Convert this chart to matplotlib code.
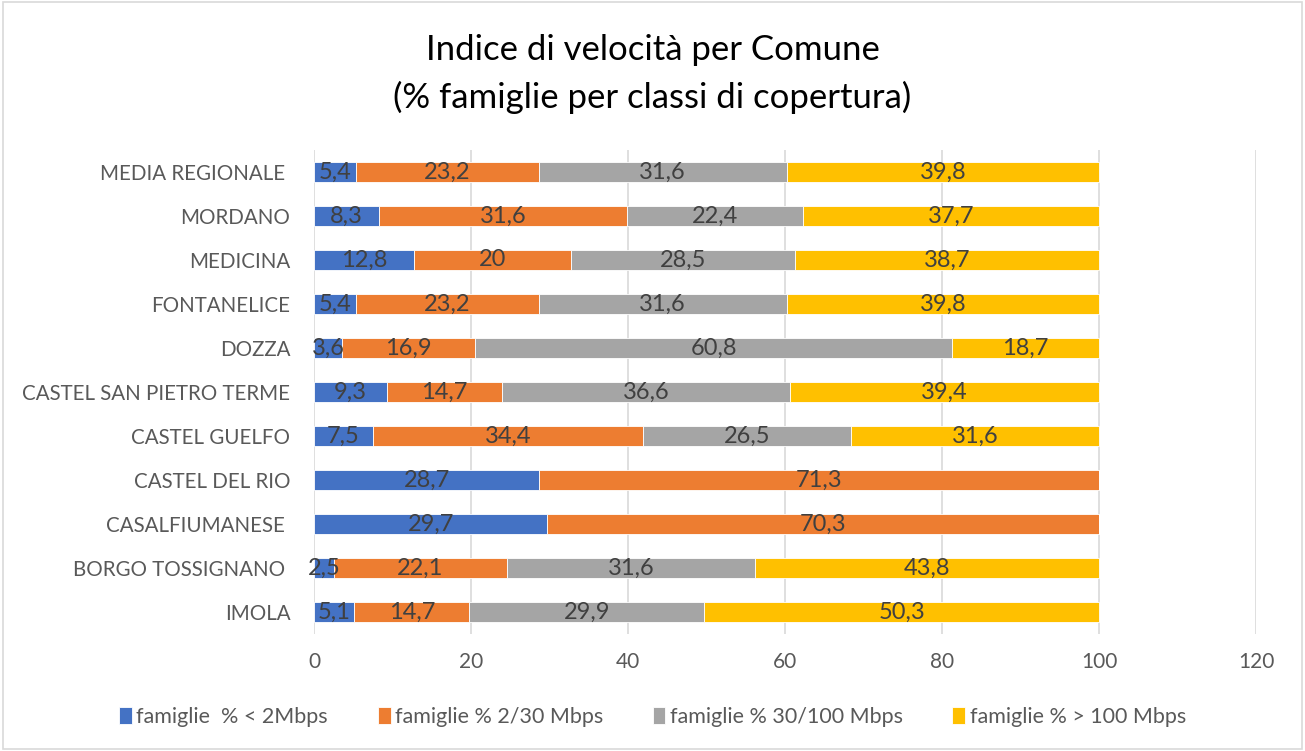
import matplotlib
matplotlib.use("Agg")
import matplotlib.pyplot as plt
from matplotlib.patches import Rectangle
import numpy as np

plt.rcParams['font.family'] = ['Lato', 'DejaVu Sans']

categories = ["IMOLA", "BORGO TOSSIGNANO ", "CASALFIUMANESE ", "CASTEL DEL RIO",
              "CASTEL GUELFO", "CASTEL SAN PIETRO TERME", "DOZZA", "FONTANELICE",
              "MEDICINA", "MORDANO", "MEDIA REGIONALE "]
lt2 = [5.1, 2.5, 29.7, 28.7, 7.5, 9.3, 3.6, 5.4, 12.8, 8.3, 5.4]
b2_30 = [14.7, 22.1, 70.3, 71.3, 34.4, 14.7, 16.9, 23.2, 20, 31.6, 23.2]
b30_100 = [29.9, 31.6, 0, 0, 26.5, 36.6, 60.8, 31.6, 28.5, 22.4, 31.6]
gt100 = [50.3, 43.8, 0, 0, 31.6, 39.4, 18.7, 39.8, 38.7, 37.7, 39.8]
series_names = ["famiglie  % < 2Mbps", "famiglie % 2/30 Mbps",
                "famiglie % 30/100 Mbps", "famiglie % > 100 Mbps"]
colors = ["#4472C4", "#ED7D31", "#A5A5A5", "#FFC000"]
xticks = [0, 20, 40, 60, 80, 100, 120]

fig = plt.figure(figsize=(13.05, 7.51), dpi=100)
fig.patches.append(Rectangle((0.002, 0.002), 0.996, 0.995, transform=fig.transFigure,
                             fill=False, edgecolor="#D9D9D9", linewidth=1.2))
ax = fig.add_axes([0.2406, 0.1558, 0.7219, 0.6445])

y = np.arange(len(categories))
left = np.zeros(len(categories))
for vals, name, col in zip([lt2, b2_30, b30_100, gt100], series_names, colors):
    vals = np.array(vals, dtype=float)
    ax.barh(y, vals, left=left, height=0.45, color=col, label=name,
            edgecolor="white", linewidth=0.6, zorder=3)
    for yi, l, v in zip(y, left, vals):
        if v > 0:
            ax.text(l + v / 2, yi, f"{v:g}".replace('.', ','), ha='center', va='center',
                    fontsize=17, color="#404040", zorder=4)
    left += vals

ax.set_xlim(0, 120)
ax.set_ylim(-0.5, len(categories) - 0.5)
ax.set_xticks(xticks)
ax.set_yticks(y)
ax.set_yticklabels(categories)
ax.grid(axis='x', color="#D9D9D9", linewidth=1.2, zorder=0)
ax.set_axisbelow(True)
for s in ax.spines.values():
    s.set_visible(False)
ax.tick_params(axis='both', length=0, colors="#595959")
ax.tick_params(axis='x', pad=13, labelsize=15)
ax.tick_params(axis='y', pad=17, labelsize=14.8)

fig.text(0.5, 0.933, "Indice di velocità per Comune", ha='center', va='center',
         fontsize=25, color="black")
fig.text(0.5, 0.870, "(% famiglie per classi di copertura)", ha='center', va='center',
         fontsize=25, color="black")

fig.legend(loc='center', bbox_to_anchor=(0.5, 0.045), ncol=4, frameon=False,
           fontsize=15.5, handlelength=0.6, handleheight=0.8, handletextpad=0.2,
           columnspacing=2.3, labelcolor="#595959")

fig.savefig("out.png", dpi=100)
